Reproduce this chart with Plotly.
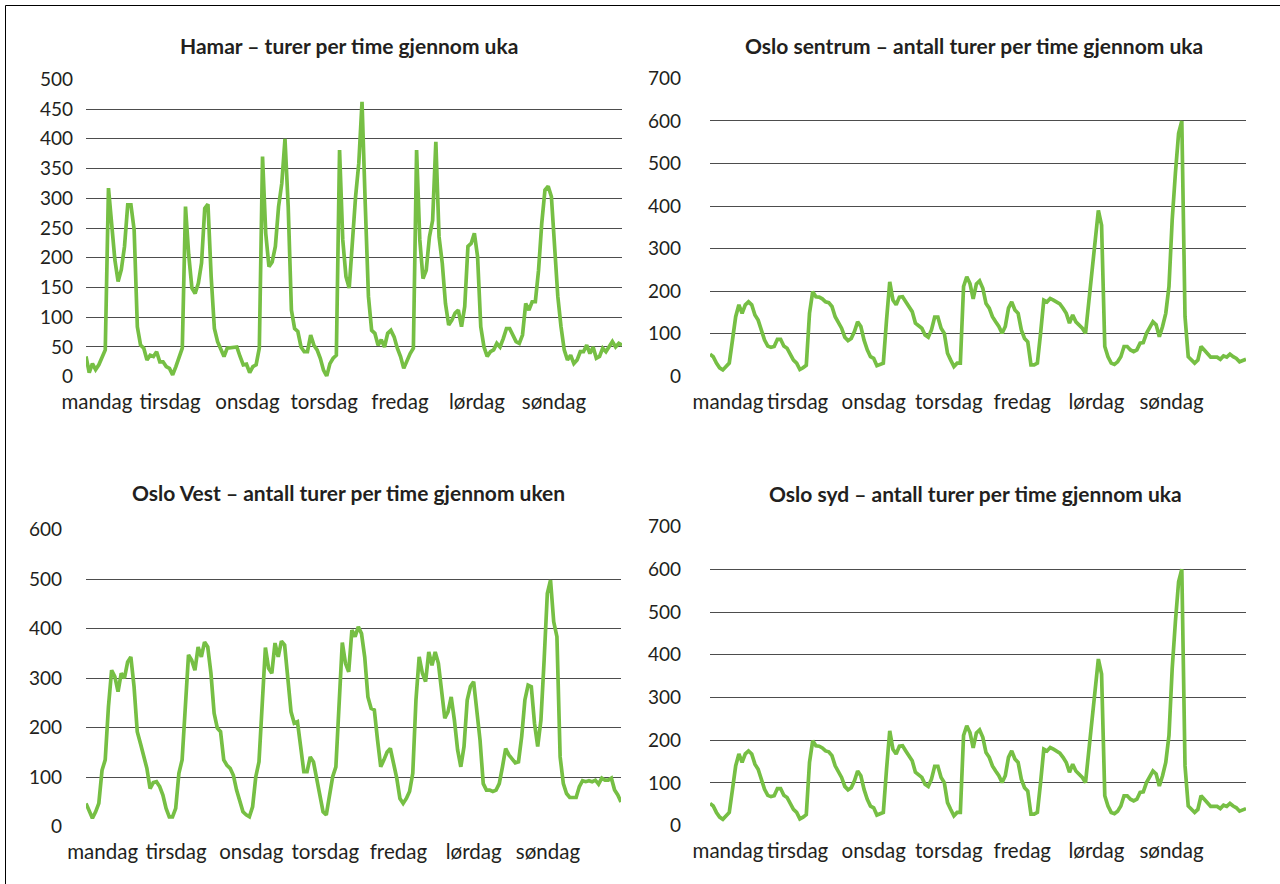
import plotly.graph_objects as go

W, H = 1280, 884

days = ["mandag", "tirsdag", "onsdag", "torsdag", "fredag", "lørdag", "søndag"]
hours = list(range(168))

hamar = [34, 7, 22, 12, 20, 31, 45, 317, 247, 196, 160, 180, 219, 289, 289, 247, 84, 53, 48, 28, 36, 34, 42, 25,
         25, 17, 14, 3, 17, 34, 48, 286, 205, 149, 140, 157, 191, 283, 290, 168, 81, 59, 48, 34, 48, 49, 49, 50,
         34, 20, 21, 7, 17, 20, 48, 370, 241, 185, 193, 219, 286, 325, 400, 286, 112, 81, 76, 50, 42, 42, 70, 53,
         45, 31, 11, 1, 22, 31, 36, 381, 230, 168, 149, 230, 303, 359, 462, 291, 135, 78, 73, 53, 62, 50, 73, 78,
         67, 48, 34, 14, 28, 39, 48, 381, 230, 165, 179, 235, 263, 395, 235, 191, 123, 87, 95, 107, 112, 84, 118, 219,
         224, 241, 202, 84, 50, 34, 42, 45, 56, 50, 64, 81, 81, 70, 59, 56, 70, 123, 112, 126, 126, 179, 258, 314,
         320, 303, 213, 135, 84, 45, 28, 36, 22, 28, 42, 42, 53, 39, 50, 31, 34, 48, 42, 50, 59, 50, 56, 53]

oslo_sentrum = [52, 46, 31, 20, 15, 23, 31, 85, 140, 168, 148, 168, 175, 168, 144, 132, 109, 85, 71, 68, 70, 87, 87, 71,
                66, 50, 38, 31, 16, 20, 26, 148, 199, 187, 186, 182, 175, 173, 164, 140, 125, 113, 92, 84, 89, 105, 128, 117,
                85, 62, 46, 42, 25, 27, 31, 132, 222, 179, 168, 186, 187, 175, 164, 152, 125, 118, 113, 97, 92, 109, 139, 139,
                113, 101, 54, 38, 23, 31, 31, 211, 234, 218, 182, 217, 224, 207, 171, 160, 140, 128, 117, 101, 117, 160, 175, 156,
                148, 109, 89, 81, 27, 27, 31, 101, 179, 175, 183, 179, 175, 170, 160, 148, 125, 144, 128, 121, 113, 101, 171, 242,
                300, 390, 355, 70, 46, 31, 28, 34, 46, 70, 70, 62, 58, 62, 78, 79, 101, 117, 128, 121, 93, 117, 148, 211,
                367, 477, 571, 600, 140, 46, 38, 31, 38, 70, 62, 52, 45, 45, 45, 40, 48, 45, 52, 46, 42, 34, 37, 40]

oslo_vest = [47, 34, 17, 30, 47, 114, 135, 242, 316, 303, 273, 310, 300, 333, 343, 283, 192, 168, 145, 118, 77, 89, 91, 81,
             64, 37, 20, 20, 37, 108, 135, 256, 347, 336, 316, 363, 343, 373, 363, 310, 229, 199, 192, 135, 124, 118, 104, 74,
             54, 30, 24, 20, 40, 101, 131, 262, 362, 320, 310, 371, 343, 375, 367, 300, 232, 209, 212, 162, 111, 111, 141, 131,
             94, 57, 30, 24, 67, 101, 121, 240, 372, 330, 313, 397, 384, 404, 390, 343, 262, 239, 236, 175, 121, 135, 151, 158,
             128, 98, 57, 47, 57, 71, 108, 256, 343, 310, 293, 353, 326, 353, 330, 276, 219, 232, 262, 215, 155, 121, 162, 256,
             283, 293, 236, 175, 87, 74, 74, 71, 74, 87, 121, 158, 145, 138, 129, 131, 182, 256, 286, 283, 209, 162, 215, 336,
             471, 498, 414, 384, 141, 87, 67, 59, 59, 59, 81, 93, 91, 93, 91, 94, 86, 98, 94, 94, 98, 74, 64, 50]

oslo_syd = list(oslo_sentrum)

titles = ["Hamar – turer per time gjennom uka",
          "Oslo sentrum – antall turer per time gjennom uka",
          "Oslo Vest – antall turer per time gjennom uken",
          "Oslo syd – antall turer per time gjennom uka"]

series = [hamar, oslo_sentrum, oslo_vest, oslo_syd]
y_max = [500, 700, 600, 700]
y_step = [50, 100, 100, 100]
day_tick_pos = [[3.4, 26.2, 50.3, 74.2, 97.8, 121.8, 145.8],
                [5.6, 27.3, 51.0, 74.4, 97.3, 120.4, 143.8],
                [5.2, 28.1, 51.6, 74.7, 97.5, 121.0, 144.2],
                [5.6, 27.3, 51.0, 74.4, 97.3, 120.4, 143.8]]

# layout geometry (pixels)
x_px = [(86, 622), (710, 1246), (86, 621), (710, 1246)]
y_px = [(79.3, 376.7), (78.4, 376.3), (529.7, 826.7), (526.6, 825.7)]
ylab_gap = [12, 28, 23, 28]
title_xy = [(349, 45), (974, 45), (348, 492), (975, 493)]

GREEN = "#76bf44"
TXT = "#231f20"
GRID = "#4d4d4d"
FONT = "Lato"

fig = go.Figure()
for k in range(4):
    sfx = "" if k == 0 else str(k + 1)
    fig.add_trace(go.Scatter(x=hours, y=series[k], mode="lines",
                             line=dict(color=GREEN, width=3.7, shape="linear"),
                             xaxis="x" + sfx, yaxis="y" + sfx, showlegend=False,
                             hoverinfo="skip"))
    x0, x1 = x_px[k]
    yt, yb = y_px[k]
    fig.layout["xaxis" + sfx] = dict(
        domain=[x0 / W, x1 / W], range=[0, 167], anchor="y" + sfx,
        tickmode="array", tickvals=day_tick_pos[k], ticktext=days,
        showgrid=False, zeroline=False, showline=False, ticks="",
        tickfont=dict(family=FONT, size=20.5, color=TXT),
        ticklabelstandoff=11, automargin=False, fixedrange=True)
    tv = list(range(0, y_max[k] + 1, y_step[k]))
    fig.layout["yaxis" + sfx] = dict(
        domain=[1 - yb / H, 1 - yt / H], range=[0, y_max[k]], anchor="x" + sfx,
        tickmode="array", tickvals=tv, ticktext=[str(v) for v in tv],
        showgrid=True, gridcolor=GRID, gridwidth=1,
        zeroline=False, showline=False, ticks="",
        tickfont=dict(family=FONT, size=19, color=TXT),
        ticklabelstandoff=ylab_gap[k], automargin=False, fixedrange=True)
    tx, ty = title_xy[k]
    fig.add_annotation(text="<b>" + titles[k] + "</b>", x=tx / W, y=1 - ty / H,
                       xref="paper", yref="paper", xanchor="center", yanchor="middle",
                       showarrow=False, font=dict(family=FONT, size=21, color=TXT))

# page frame: left and top edges
fig.add_shape(type="line", xref="paper", yref="paper",
              x0=5.5 / W, x1=5.5 / W, y0=0, y1=1 - 5.5 / H,
              line=dict(color="#000000", width=1), layer="below")
fig.add_shape(type="line", xref="paper", yref="paper",
              x0=5.5 / W, x1=1, y0=1 - 5.5 / H, y1=1 - 5.5 / H,
              line=dict(color="#000000", width=1), layer="below")

fig.update_layout(width=W, height=H,
                  margin=dict(l=0, r=0, t=0, b=0, pad=0, autoexpand=False),
                  paper_bgcolor="white", plot_bgcolor="white")

fig.write_html("out.html", config={"displayModeBar": False},
               post_script="document.body.style.margin='0';document.body.style.overflow='hidden';")
